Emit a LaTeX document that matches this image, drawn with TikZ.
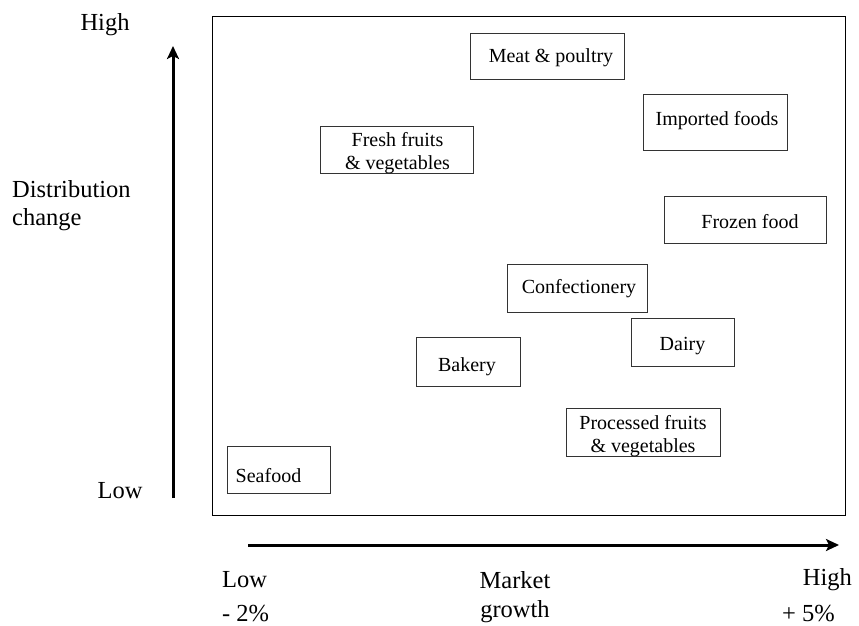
\documentclass[tikz,border=0pt]{standalone}
\usepackage{fontspec}
\setmainfont{Liberation Serif}
\usetikzlibrary{arrows.meta,calc}
\begin{document}
\begin{tikzpicture}[x=1pt,y=-1pt,
  box/.style={draw=black!80, line width=0.9pt, rectangle, inner sep=0pt},
  btxt/.style={inner sep=0pt, font=\fontsize{20}{23}\selectfont, align=center},
  ltxt/.style={inner sep=0pt, font=\fontsize{24.5}{28}\selectfont},
  axis/.style={line width=3pt, -{Stealth[length=13pt,width=12pt,inset=3pt]}}]
\useasboundingbox (0,0) rectangle (859,626);
% frame
\node[draw=black, line width=0.9pt, minimum width=633pt, minimum height=499pt, inner sep=0pt, anchor=north west] (frame) at (212,16) {};
% axes
\coordinate (vb) at (173,498);
\coordinate (vt) at (173,46);
\coordinate (hl) at (248,545);
\coordinate (hr) at (839,545);
\draw[axis] (vb) -- (vt);
\draw[axis] (hl) -- (hr);
% axis labels
\node[ltxt, anchor=base] (yhigh) at (105,31) {High};
\node[ltxt, anchor=base west, align=left] (ylab1) at (12,197) {Distribution};
\node[ltxt, anchor=base west] (ylab2) at (12,225) {change};
\node[ltxt, anchor=base] (ylow) at (120,498) {Low};
\node[ltxt, anchor=base west] (xlow) at (222,587) {Low};
\node[ltxt, anchor=base] (xm1) at (515,588) {Market};
\node[ltxt, anchor=base] (xm2) at (515,617) {growth};
\node[ltxt, anchor=base east] (xhigh) at (852,585) {High};
\node[ltxt, anchor=base west] (xneg) at (222,621) {- 2\%};
\node[ltxt, anchor=base west] (xpos) at (782,621) {+ 5\%};
% boxes
\node[box, minimum width=154pt, minimum height=46pt] (meat) at (547,56) {};
\node[btxt] (meatt) at ($(meat.center)+(4,2)$) {Meat \& poultry};
\node[box, minimum width=144pt, minimum height=56pt] (imp) at (715,122) {};
\node[btxt] (impt) at ($(imp.center)+(2,-1)$) {Imported foods};
\node[box, minimum width=153pt, minimum height=47pt] (fresh) at (396.5,149.5) {};
\node[btxt] (fresht) at ($(fresh.center)+(1,4)$) {Fresh fruits\\\& vegetables};
\node[box, minimum width=162pt, minimum height=47pt] (froz) at (745,219.5) {};
\node[btxt] (frozt) at ($(froz.center)+(5,2)$) {Frozen food};
\node[box, minimum width=140pt, minimum height=48pt] (conf) at (577,288) {};
\node[btxt] (conft) at ($(conf.center)+(2,1)$) {Confectionery};
\node[box, minimum width=103pt, minimum height=48pt] (dairy) at (682.5,342) {};
\node[btxt] (dairyt) at ($(dairy.center)+(0,4)$) {Dairy};
\node[box, minimum width=104pt, minimum height=49pt] (bak) at (468,361.5) {};
\node[btxt] (bakt) at ($(bak.center)+(-1,5)$) {Bakery};
\node[box, minimum width=154pt, minimum height=48pt] (proc) at (643,432) {};
\node[btxt] (proct) at ($(proc.center)+(0,4)$) {Processed fruits\\\& vegetables};
\node[box, minimum width=103pt, minimum height=47pt] (sea) at (278.5,469.5) {};
\node[btxt] (seat) at ($(sea.center)+(-10,6)$) {Seafood};
\end{tikzpicture}
\end{document}
